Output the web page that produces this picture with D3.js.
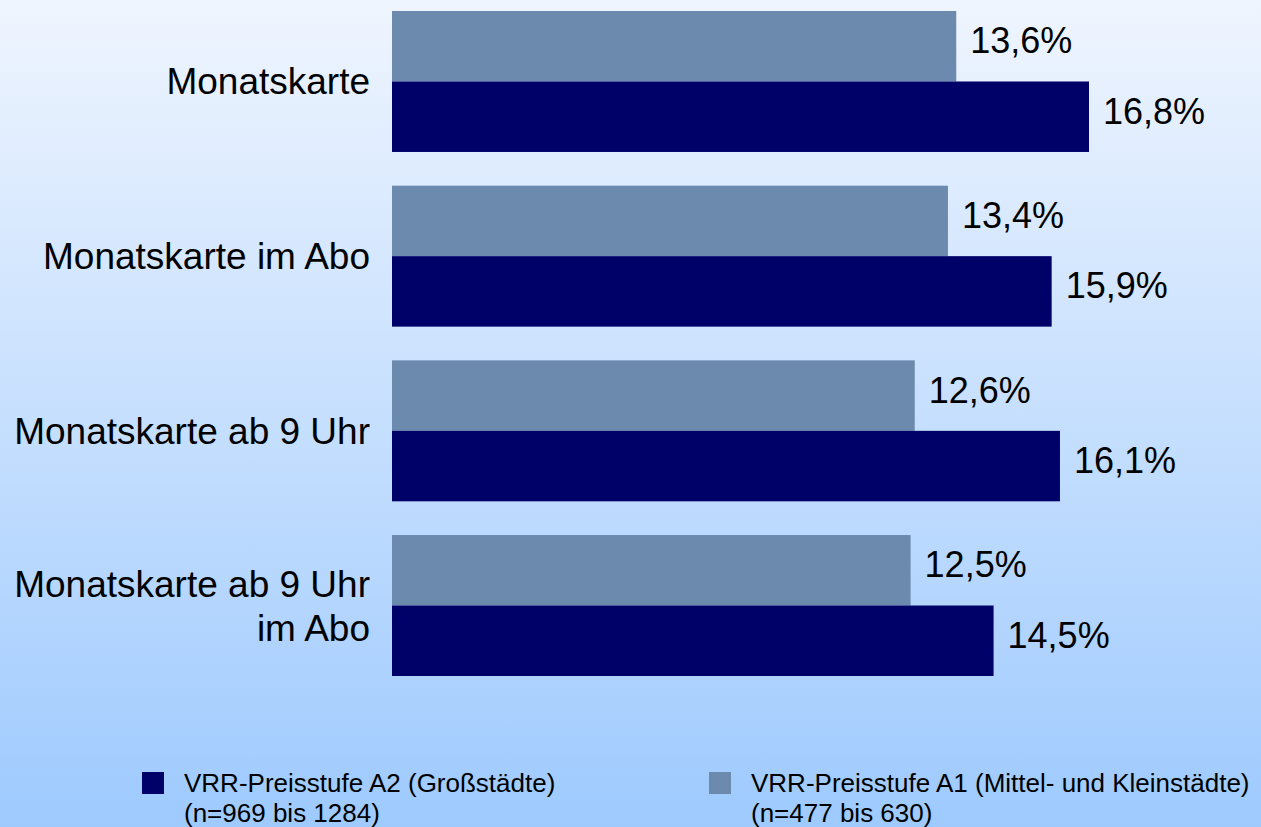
<!DOCTYPE html>
<html>
<head>
<meta charset="utf-8">
<script src="https://cdn.jsdelivr.net/npm/d3@7"></script>
<style>
  body { margin: 0; padding: 0; overflow: hidden; }
  svg { display: block; font-family: "Liberation Sans", Arial, sans-serif; }
</style>
</head>
<body>
<div id="chart"></div>
<script>
// categories (label lines) and series values in percent
var categories = ["Monatskarte", "Monatskarte im Abo", "Monatskarte ab 9 Uhr", "Monatskarte ab 9 Uhr im Abo"];
var categoryLines = [["Monatskarte"], ["Monatskarte im Abo"], ["Monatskarte ab 9 Uhr"], ["Monatskarte ab 9 Uhr", "im Abo"]];
var seriesKeys = ["A1", "A2"];
var valuesA1 = [13.6, 13.4, 12.6, 12.5];
var valuesA2 = [16.8, 15.9, 16.1, 14.5];
var legendLines = [
    ["VRR-Preisstufe A2 (Großstädte)", "(n=969 bis 1284)"],
    ["VRR-Preisstufe A1 (Mittel- und Kleinstädte)", "(n=477 bis 630)"]
];

var width = 1261, height = 827;
var colorA1 = "#6c8aae";
var colorA2 = "#000069";

var svg = d3.select("#chart").append("svg")
    .attr("width", width)
    .attr("height", height);

var defs = svg.append("defs");
var grad = defs.append("linearGradient")
    .attr("id", "bg")
    .attr("x1", 0).attr("y1", 0).attr("x2", 0).attr("y2", 1);
grad.append("stop").attr("offset", "0%").attr("stop-color", "#eff5fe");
grad.append("stop").attr("offset", "100%").attr("stop-color", "#9ecafe");

svg.append("rect")
    .attr("width", width)
    .attr("height", height)
    .attr("fill", "url(#bg)");

var x = d3.scaleLinear().domain([0, 16.8]).range([392, 1089]);
var y = d3.scaleBand().domain(categories).range([11, 676]).paddingInner(0.193).paddingOuter(0);
var ySub = d3.scaleBand().domain(seriesKeys).range([0, y.bandwidth()]);

var rows = categories.map(function(c, i) {
    return {cat: c, lines: categoryLines[i], A1: valuesA1[i], A2: valuesA2[i]};
});

var group = svg.append("g").selectAll("g.cat")
    .data(rows)
    .enter().append("g")
    .attr("class", "cat")
    .attr("transform", function(d) { return "translate(0," + y(d.cat) + ")"; });

group.selectAll("rect")
    .data(function(d) { return seriesKeys.map(function(k) { return {key: k, value: d[k]}; }); })
    .enter().append("rect")
    .attr("x", x(0))
    .attr("y", function(d) { return ySub(d.key); })
    .attr("width", function(d) { return x(d.value) - x(0); })
    .attr("height", ySub.bandwidth())
    .attr("fill", function(d) { return d.key == "A1" ? colorA1 : colorA2; });

group.selectAll("text.val")
    .data(function(d) { return seriesKeys.map(function(k) { return {key: k, value: d[k]}; }); })
    .enter().append("text")
    .attr("class", "val")
    .attr("x", function(d) { return x(d.value) + 14; })
    .attr("y", function(d) { return ySub(d.key) + ySub.bandwidth() / 2 + 7; })
    .attr("font-size", 36)
    .attr("fill", "#000")
    .text(function(d) { return d.value.toFixed(1).replace(".", ",") + "%"; });

// category labels, right aligned
group.append("text")
    .attr("class", "cat-label")
    .attr("text-anchor", "end")
    .attr("font-size", 37)
    .attr("fill", "#000")
    .each(function(d) {
        var t = d3.select(this);
        var n = d.lines.length;
        var mid = y.bandwidth() / 2 + 13;
        d.lines.forEach(function(line, j) {
            t.append("tspan")
                .attr("x", 370)
                .attr("y", mid + (j - (n - 1) / 2) * 44)
                .text(line);
        });
    });

// legend
var legendX = [142, 709];
var legendColors = [colorA2, colorA1];
var legend = svg.append("g").selectAll("g.leg")
    .data(legendLines)
    .enter().append("g")
    .attr("class", "leg")
    .attr("transform", function(d, i) { return "translate(" + legendX[i] + ",772)"; });

legend.append("rect")
    .attr("width", 22)
    .attr("height", 22)
    .attr("fill", function(d, i) { return legendColors[i]; });

legend.append("text")
    .attr("font-size", 26)
    .attr("fill", "#000")
    .selectAll("tspan")
    .data(function(d) { return d; })
    .enter().append("tspan")
    .attr("x", 42)
    .attr("y", function(d, j) { return 20 + j * 30; })
    .text(function(d) { return d; });
</script>
</body>
</html>
